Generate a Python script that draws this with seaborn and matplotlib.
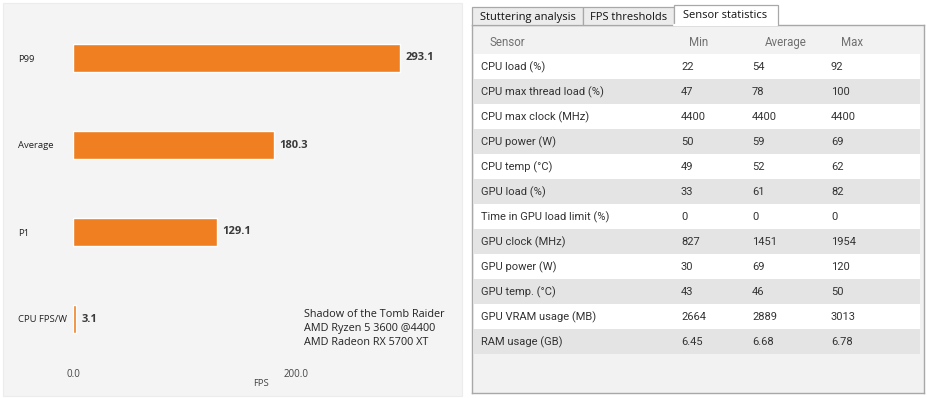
import matplotlib.pyplot as plt
import numpy as np
import seaborn as sns
from matplotlib.patches import Rectangle

# bar chart data
metrics = ["P99", "Average", "P1", "CPU FPS/W"]
fps_values = [293.1, 180.3, 129.1, 3.1]
x_ticks = [0, 200]
setup_lines = ["Shadow of the Tomb Raider", "AMD Ryzen 5 3600 @4400", "AMD Radeon RX 5700 XT"]

# sensor table data
tabs = ["Stuttering analysis", "FPS thresholds", "Sensor statistics"]
columns = ["Sensor", "Min", "Average", "Max"]
sensors = ["CPU load (%)", "CPU max thread load (%)", "CPU max clock (MHz)", "CPU power (W)",
           "CPU temp (°C)", "GPU load (%)", "Time in GPU load limit (%)", "GPU clock (MHz)",
           "GPU power (W)", "GPU temp. (°C)", "GPU VRAM usage (MB)", "RAM usage (GB)"]
s_min = [22, 47, 4400, 50, 49, 33, 0, 827, 30, 43, 2664, 6.45]
s_avg = [54, 78, 4400, 59, 52, 61, 0, 1451, 69, 46, 2889, 6.68]
s_max = [92, 100, 4400, 69, 62, 82, 0, 1954, 120, 50, 3013, 6.78]

W, H = 928, 398
ORANGE = '#f07f22'

sns.set_theme(style="white")
plt.rcParams['font.family'] = ['Open Sans', 'DejaVu Sans']

fig = plt.figure(figsize=(W / 100, H / 100), dpi=100)
fig.patch.set_facecolor('white')

def px_box(x0, y0, x1, y1):
	return [x0 / W, 1 - y1 / H, (x1 - x0) / W, (y1 - y0) / H]

# left panel background
fig.patches.append(Rectangle((3 / W, 1 - 396 / H), 459 / W, 393 / H, transform=fig.transFigure,
	facecolor='#f4f4f4', edgecolor='#ececec', lw=0.8, zorder=-5))

ax = fig.add_axes(px_box(73, 14.5, 449, 362.5))
ax.set_facecolor('none')
sns.barplot(x=fps_values, y=metrics, orient='h', color=ORANGE, saturation=1, width=0.32, ax=ax)
ax.set_xlim(0, 337)
ax.set_ylim(3.5, -0.5)
ax.bar_label(ax.containers[0], fmt='%.1f', padding=3.8, fontsize=8, fontweight='bold', color='#3a3a3a')
ax.set_xticks(x_ticks)
ax.set_xticklabels(['{:.1f}'.format(t) for t in x_ticks], fontsize=7, color='#444')
ax.tick_params(axis='x', length=0, pad=5)
ax.tick_params(axis='y', length=0, pad=39.6, labelsize=6.8, labelcolor='#222')
for lab in ax.get_yticklabels():
	lab.set_horizontalalignment('left')
ax.set_ylabel('')
ax.set_xlabel('FPS', fontsize=6.8, color='#444')
ax.xaxis.set_label_coords(0.5, -0.046)
sns.despine(ax=ax, left=True, bottom=True)
ax.text(0.614, 0.155, '\n'.join(setup_lines), transform=ax.transAxes, fontsize=7.8,
	color='#222', va='top', ha='left', linespacing=1.38)

# sensor table
ax2 = fig.add_axes(px_box(472, 25, 924, 393))
ax2.set_xlim(0, 452)
ax2.set_ylim(13.08, -1.64)
ax2.set_facecolor('#f2f2f2')
for s in ax2.spines.values():
	s.set_color('#a8a8a8')
	s.set_linewidth(1)
ax2.set_xticks([])
ax2.set_yticks([])

rows = np.arange(len(sensors))
row_colors = ['white' if i % 2 == 0 else '#e4e4e4' for i in rows]
ax2.barh(rows, 446, left=2, height=1.0, color=row_colors, linewidth=0)

col_x = [9, 209, 280, 359]
head_x = [18, 217, 293, 369]
for hx, name in zip(head_x, columns):
	ax2.text(hx, -1.0, name, fontsize=8.3, color='#707070', va='center_baseline', ha='left', family='Roboto')
for i in rows:
	cells = [sensors[i], '{:g}'.format(s_min[i]), '{:g}'.format(s_avg[i]), '{:g}'.format(s_max[i])]
	for cx, txt in zip(col_x, cells):
		ax2.text(cx, i, txt, fontsize=8, color='#333', va='center_baseline', ha='left', family='Roboto')

# tabs above the table
tab_left = [0, 111, 202]
tab_right = [111, 202, 306]
tab_text_x = [8, 118, 211]
for i, name in enumerate(tabs):
	active = i == len(tabs) - 1
	top = -2.44 if active else -2.36
	bottom = -1.64
	ax2.add_patch(Rectangle((tab_left[i], bottom), tab_right[i] - tab_left[i], top - bottom,
		facecolor='white' if active else '#ececec', edgecolor='#a8a8a8', lw=0.9, clip_on=False, zorder=3))
	if active:
		ax2.plot([tab_left[i] + 0.5, tab_right[i] - 0.5], [bottom, bottom], color='white', lw=1.6,
			clip_on=False, zorder=4)
	ax2.text(tab_text_x[i], -2.0 if not active else -2.06, name, fontsize=8, color='#111',
		va='center_baseline', ha='left', zorder=5, clip_on=False)

fig.savefig('out.png', dpi=100, facecolor='white')
